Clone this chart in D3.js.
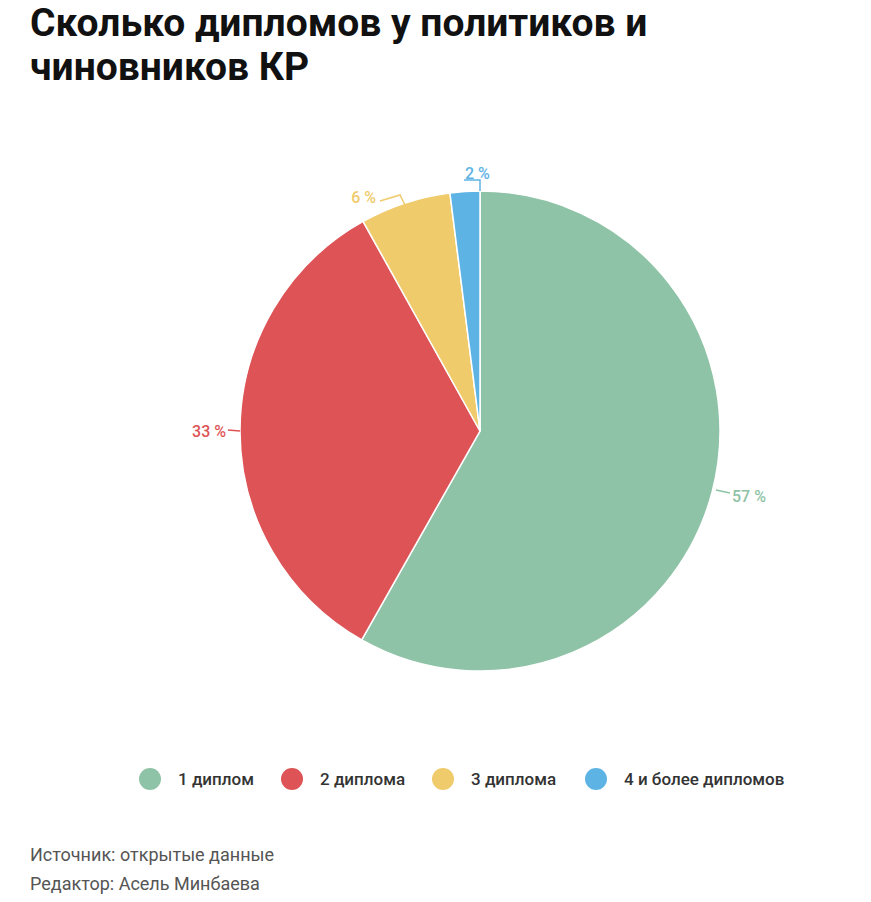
<!DOCTYPE html><html><head><meta charset="utf-8">
<script src="https://cdn.jsdelivr.net/npm/d3@7"></script>
<style>body{margin:0;background:#fff;font-family:Roboto,sans-serif}</style></head><body>
<svg id="c" width="871" height="902"></svg>
<script>
const categories=["1 диплом","2 диплома","3 диплома","4 и более дипломов"];
const values=[58.2,33.7,6.1,2.0];
const labels=["57 %","33 %","6 %","2 %"];
const colors=["#8fc3a7","#dd5356","#f0cb6b","#5db4e4"];
const svg=d3.select("#c");
const t=svg.append("text").attr("x",30).attr("font-size",39).attr("font-weight",700).attr("fill","#111");
t.append("tspan").attr("x",30).attr("y",36).text("Сколько дипломов у политиков и");
t.append("tspan").attr("x",30).attr("y",80).text("чиновников КР");
const cx=480,cy=431,R=240;
const g=svg.append("g").attr("transform",`translate(${cx},${cy})`);
const arcs=d3.pie().sort(null).value(d=>d)(values);
const arc=d3.arc().innerRadius(0).outerRadius(R);
g.selectAll("path").data(arcs).join("path").attr("d",arc).attr("fill",(d,i)=>colors[i]).attr("stroke","#fff").attr("stroke-width",1.5);
// label positions (offsets relative to label anchor)
const lab=[
 {a:1.83,pts:[[236,59],[250,62]],tx:252,ty:65,anchor:"start"},
 {a:4.74,pts:[[-240,0],[-252,-1]],tx:-254,ty:0,anchor:"end"},
 {a:5.96,pts:[[-75,-226],[-80,-236],[-100,-230]],tx:-104,ty:-234,anchor:"end"},
 {a:6.22,pts:[[0,-240],[0,-251],[-16,-251]],tx:-15,ty:-258,anchor:"start"}
];
lab.forEach((l,i)=>{
 g.append("path").attr("d",d3.line()(l.pts)).attr("fill","none").attr("stroke",colors[i]).attr("stroke-width",1.5);
 g.append("text").attr("x",l.tx).attr("y",l.ty).attr("dy","0.35em").attr("text-anchor",l.anchor).attr("font-size",16).attr("font-weight",500).attr("fill",colors[i]).text(labels[i]);
});
const lx=[150,292,443,596];
categories.forEach((c,i)=>{
 svg.append("circle").attr("cx",lx[i]).attr("cy",779).attr("r",11).attr("fill",colors[i]);
 svg.append("text").attr("x",lx[i]+28).attr("y",779).attr("dy","0.35em").attr("font-size",17).attr("font-weight",500).attr("fill","#333").text(c);
});
svg.append("text").attr("x",30).attr("y",861).attr("font-size",18).attr("fill","#555").text("Источник: открытые данные");
svg.append("text").attr("x",30).attr("y",890).attr("font-size",18).attr("fill","#555").text("Редактор: Асель Минбаева");
</script></body></html>
